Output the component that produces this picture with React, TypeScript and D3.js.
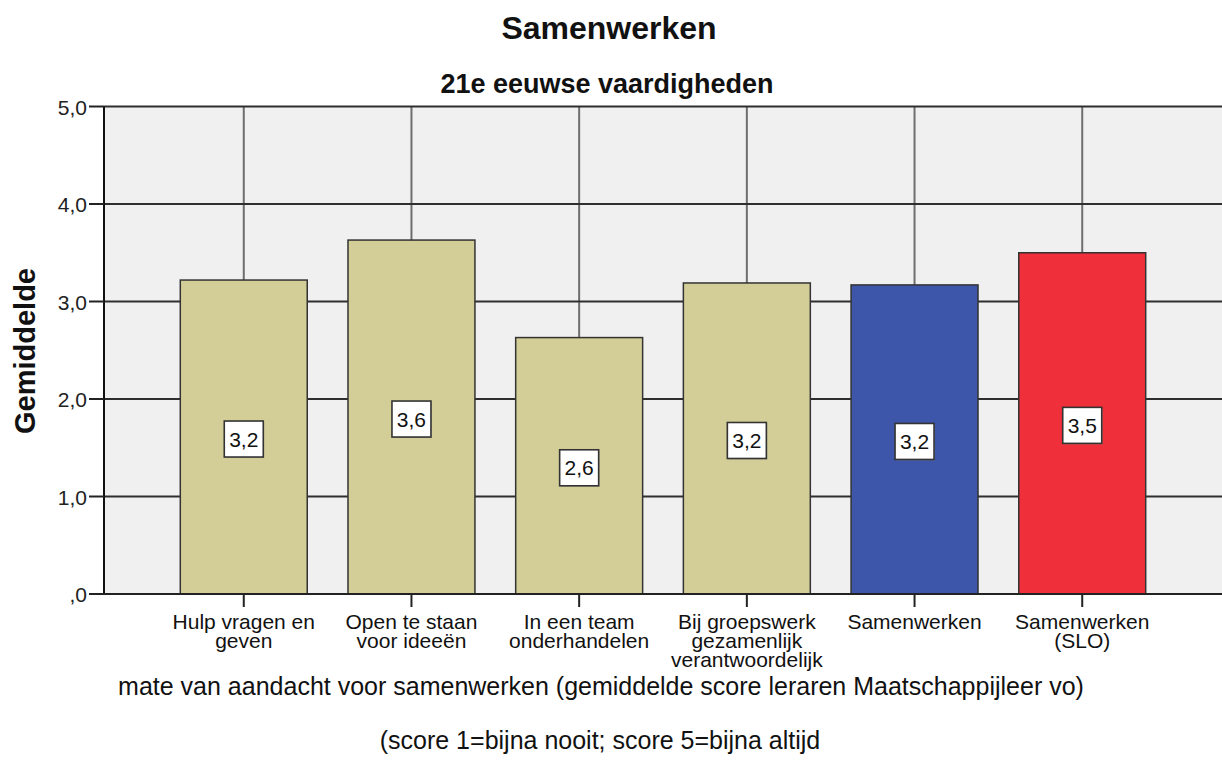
import React from "react";
import * as d3 from "d3";

const categories: string[][] = [
  ["Hulp vragen en", "geven"],
  ["Open te staan", "voor ideeën"],
  ["In een team", "onderhandelen"],
  ["Bij groepswerk", "gezamenlijk", "verantwoordelijk"],
  ["Samenwerken"],
  ["Samenwerken", "(SLO)"],
];
const values: number[] = [3.22, 3.63, 2.63, 3.19, 3.17, 3.5];
const barColors: string[] = ["#d3ce97", "#d3ce97", "#d3ce97", "#d3ce97", "#3d56a9", "#ef2f39"];
const yTicks: number[] = [0, 1, 2, 3, 4, 5];
const yTickLabels: string[] = [",0", "1,0", "2,0", "3,0", "4,0", "5,0"];

const title = "Samenwerken";
const subtitle = "21e eeuwse vaardigheden";
const yTitle = "Gemiddelde";
const xTitle1 = "mate van aandacht voor samenwerken (gemiddelde score leraren Maatschappijleer vo)";
const xTitle2 = "(score 1=bijna nooit; score 5=bijna altijd";

const W = 1222;
const H = 774;
const left = 104;
const right = 1222;
const top = 106.5;
const bottom = 594;
const font = "'Liberation Sans', Arial, sans-serif";

export default function App() {
  const keys = categories.map((c, i) => String(i));
  const x = d3.scaleBand<string>().domain(keys).range([left, right]).paddingInner(0.243).paddingOuter(0.455);
  const y = d3.scaleLinear().domain([0, 5]).range([bottom, top]);
  const fmt = (v: number) => d3.format(".1f")(v).replace(".", ",");

  return (
    <svg width={W} height={H} style={{ position: "absolute", left: 0, top: 0, background: "#fff" }} fontFamily={font}>
      <text x={609} y={39} textAnchor="middle" fontSize={32} fontWeight="bold" fill="#111">{title}</text>
      <text x={607} y={93} textAnchor="middle" fontSize={27} fontWeight="bold" fill="#111">{subtitle}</text>

      <rect x={left} y={top} width={right - left} height={bottom - top} fill="#f0f0f0" />
      {keys.map((k) => (
        <line key={"vg" + k} x1={x(k)! + x.bandwidth() / 2} x2={x(k)! + x.bandwidth() / 2} y1={top} y2={bottom} stroke="#6e6e6e" strokeWidth={2} />
      ))}
      {yTicks.filter((t) => t > 0).map((t) => (
        <line key={"hg" + t} x1={left} x2={right} y1={y(t)} y2={y(t)} stroke="#2e2e2e" strokeWidth={2} />
      ))}

      {values.map((v, i) => (
        <rect key={"b" + i} x={x(keys[i])!} y={y(v)} width={x.bandwidth()} height={y(0) - y(v)} fill={barColors[i]} stroke="#333" strokeWidth={1.5} />
      ))}

      {values.map((v, i) => {
        const cx = x(keys[i])! + x.bandwidth() / 2;
        const cy = (y(v) + y(0)) / 2 + 2;
        return (
          <g key={"lb" + i}>
            <rect x={cx - 19.5 + 1} y={cy - 18 + 1} width={39} height={36} fill="#9a9a9a" opacity={0.5} />
            <rect x={cx - 19.5} y={cy - 18} width={39} height={36} fill="#fff" stroke="#333" strokeWidth={1.6} />
            <text x={cx} y={cy + 7.5} textAnchor="middle" fontSize={21} fill="#111">{fmt(v)}</text>
          </g>
        );
      })}

      <line x1={left} x2={left} y1={top} y2={bottom} stroke="#111" strokeWidth={2} />
      <line x1={left} x2={right} y1={bottom} y2={bottom} stroke="#222" strokeWidth={2} />
      {yTicks.map((t, i) => (
        <g key={"yt" + t}>
          <line x1={89} x2={left} y1={y(t)} y2={y(t)} stroke="#222" strokeWidth={2} />
          <text x={87} y={y(t) + 8} textAnchor="end" fontSize={21} fill="#222">{yTickLabels[i]}</text>
        </g>
      ))}
      {keys.map((k, i) => {
        const cx = x(k)! + x.bandwidth() / 2;
        return (
          <g key={"xt" + k}>
            <line x1={cx} x2={cx} y1={bottom} y2={607} stroke="#222" strokeWidth={2} />
            <text textAnchor="middle" fontSize={21} fill="#111">
              {categories[i].map((line, j) => (
                <tspan key={j} x={cx} y={629 + j * 19}>{line}</tspan>
              ))}
            </text>
          </g>
        );
      })}

      <text transform={`translate(35,351) rotate(-90)`} textAnchor="middle" fontSize={29} fontWeight="bold" fill="#111">{yTitle}</text>
      <text x={601} y={695} textAnchor="middle" fontSize={25} fill="#111">{xTitle1}</text>
      <text x={600} y={749} textAnchor="middle" fontSize={25} fill="#111">{xTitle2}</text>
    </svg>
  );
}
